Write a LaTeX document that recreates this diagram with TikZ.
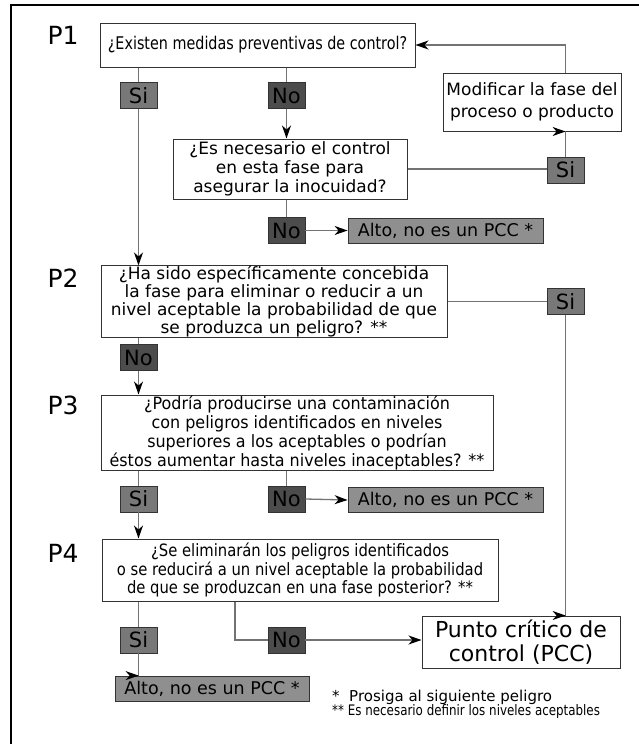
\documentclass[tikz,border=0pt]{standalone}
\usepackage{fontspec}
\setmainfont{DejaVu Sans}
\newfontfamily\narrowfont[FakeStretch=0.82]{DejaVu Sans}
\usetikzlibrary{arrows.meta,calc}

\begin{document}
\begin{tikzpicture}[x=1pt, y=-1pt,
    question/.style={
      draw=black!80, line width=1pt, fill=white, align=center,
      inner sep=0pt, font=\fontsize{17}{19}\selectfont
    },
    answer/.style={
      draw=black!80, line width=0.8pt, minimum width=37pt,
      minimum height=26pt, inner sep=0pt, font=\fontsize{21}{21}\selectfont
    },
    sibox/.style={answer, fill=black!53},
    nobox/.style={answer, fill=black!70},
    altobox/.style={
      draw=black!80, line width=0.8pt, fill=black!44, minimum width=195pt,
      minimum height=25pt, inner sep=0pt, font=\fontsize{17.5}{17.5}\selectfont
    },
    qlabel/.style={font=\fontsize{25}{25}\selectfont},
    link/.style={draw=black!55, line width=1.3pt},
    flow/.style={link, -{Stealth[length=13pt, width=9pt, inset=4pt, color=black]}},
  ]
  \useasboundingbox (0,0) rectangle (638,744);

  % Frame
  \draw[line width=2pt] (642,5) -- (11,5) -- (11,748);

  % Question labels
  \node[qlabel] (p1) at (63,35) {P1};
  \node[qlabel] (p2) at (63,278) {P2};
  \node[qlabel] (p3) at (63,405) {P3};
  \node[qlabel] (p4) at (63,553) {P4};

  % Questions
  \node[question, minimum width=315pt, minimum height=44pt,
    font=\narrowfont\fontsize{17.5}{19}\selectfont] (q1) at (257.5,45)
    {¿Existen medidas preventivas de control?};
  \node[question, minimum width=234pt, minimum height=60pt] (q1b) at (290,169)
    {¿Es necesario el control\\en esta fase para\\asegurar la inocuidad?};
  \node[question, minimum width=346pt, minimum height=71pt,
    font=\fontsize{17}{18}\selectfont] (q2) at (274,301.5)
    {¿Ha sido específicamente concebida\\la fase para eliminar o reducir a un\\nivel aceptable la probabilidad de que\\se produzca un peligro? **};
  \node[question, minimum width=392pt, minimum height=75pt,
    font=\fontsize{17}{19}\selectfont\addfontfeature{FakeStretch=0.94}] (q3) at (297,432.5)
    {¿Podría producirse una contaminación\\con peligros identificados en niveles\\superiores a los aceptables o podrían\\éstos aumentar hasta niveles inaceptables? **};
  \node[question, minimum width=396pt, minimum height=62pt,
    font=\fontsize{17}{18.5}\selectfont\addfontfeature{FakeStretch=0.87}] (q4) at (300,570)
    {¿Se eliminarán los peligros identificados\\o se reducirá a un nivel aceptable la probabilidad\\de que se produzcan en una fase posterior? **};

  % Outcomes
  \node[question, minimum width=178pt, minimum height=58pt,
    font=\fontsize{17}{22}\selectfont] (modif) at (532,102)
    {Modificar la fase del\\proceso o producto};
  \node[question, minimum width=198pt, minimum height=52pt,
    font=\fontsize{22}{24}\selectfont] (pcc) at (521,642)
    {Punto crítico de\\control (PCC)};

  % Answers
  \node[sibox] (si1) at (138.5,95.5) {Si};
  \node[nobox] (no1) at (286.5,95.5) {No};
  \node[sibox] (si2) at (565.5,170) {Si};
  \node[nobox] (no2) at (286.5,230.5) {No};
  \node[altobox] (alto1) at (445.5,230.5) {Alto, no es un PCC *};
  \node[sibox] (si3) at (565.5,301.5) {Si};
  \node[nobox] (no3) at (138.5,357.5) {No};
  \node[sibox] (si4) at (138.5,499) {Si};
  \node[nobox] (no4) at (286.5,499) {No};
  \node[altobox] (alto2) at (445.5,500) {Alto, no es un PCC *};
  \node[sibox] (si5) at (138.5,640) {Si};
  \node[nobox] (no5) at (286.5,640) {No};
  \node[altobox, minimum width=194pt] (alto3) at (212,688.5) {Alto, no es un PCC *};

  % Footnotes
  \node[anchor=west, inner sep=0pt, font=\fontsize{15}{15}\selectfont] (fn1) at (332,697)
    {*\ \ Prosiga al siguiente peligro};
  \node[anchor=west, inner sep=0pt, font=\narrowfont\fontsize{14.5}{14.5}\selectfont] (fn2) at (332,711)
    {** Es necesario definir los niveles aceptables};

  % P1
  \draw[link] (si1 |- q1.south) -- (si1.north);
  \draw[flow] (si1.south) -- (si1 |- q2.north);
  \draw[link] (no1 |- q1.south) -- (no1.north);
  \draw[flow] (no1.south) -- (no1 |- q1b.north);
  \draw[link] (q1b.east) -- (q1b.east -| si2.west);
  \draw[flow] (si2.north) |- ($(si2.north |- modif.south)+(0.1,0)$);
  \draw[flow] (si2 |- modif.north) |- (q1.east);
  \draw[link] (no2 |- q1b.south) -- (no2.north);
  \draw[flow] (no2.east) -- (alto1.west);

  % P2
  \draw[link] (q2.east) -- (si3.west);
  \draw[flow] (si3.south) |- ($(si3.south |- pcc.north)+(0.1,0)$);
  \draw[link] (no3 |- q2.south) -- (no3.north);
  \draw[flow] (no3.south) -- (no3 |- q3.north);

  % P3
  \draw[link] (si4 |- q3.south) -- (si4.north);
  \draw[link] (no4 |- q3.south) -- (no4.north);
  \draw[flow] (no4.east) -- (alto2.west);
  \draw[flow] (si4.south) -- (si4 |- q4.north);

  % P4
  \draw[link] (si5 |- q4.south) -- (si5.north);
  \draw[flow] (si5.south) |- ($(si5.south |- alto3.north)+(0.1,0)$);
  \draw[link] ($(q4.south west)!0.336!(q4.south east)$) |- (no5.west);
  \draw[flow] (no5.east) -- (no5.east -| pcc.west);
\end{tikzpicture}
\end{document}
